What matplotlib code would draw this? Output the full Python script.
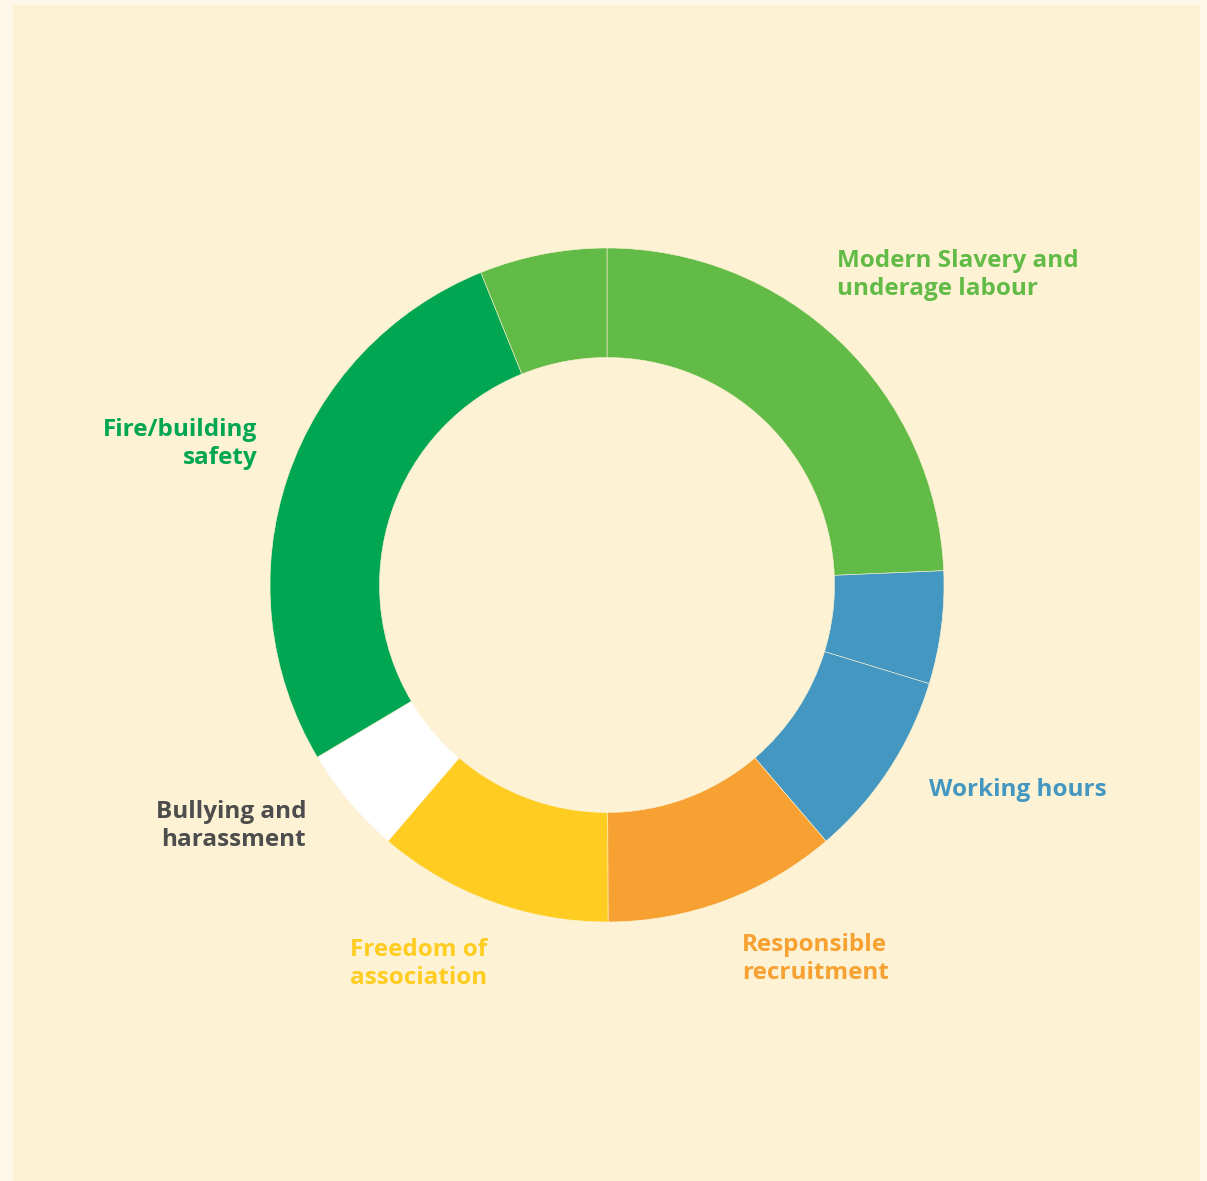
import matplotlib
matplotlib.use("Agg")
from matplotlib import pyplot as plt
from matplotlib.patches import Rectangle

# wedge shares, clockwise from 12 o'clock
values = [24.3, 5.4, 9.0, 11.2, 11.3, 5.2, 27.4, 6.1]
colors = ["#63BB47", "#4397C0", "#4397C0", "#F6A131", "#FFCD22", "#FFFFFF", "#00A651", "#63BB47"]

labels = ["Modern Slavery and\nunderage labour", "Working hours", "Responsible\nrecruitment",
          "Freedom of\nassociation", "Bullying and\nharassment", "Fire/building\nsafety"]
label_colors = ["#63BB47", "#4397C0", "#F6A131", "#FFCD22", "#4D4D4D", "#00A651"]
label_pos = [(837, 275, "left"), (929, 790, "left"), (742, 959, "left"),
             (487, 964, "right"), (306, 826, "right"), (257, 444, "right")]

W, H = 1207, 1181
fig = plt.figure(figsize=(W / 100, H / 100), dpi=100)
fig.patch.set_facecolor("#FFF7E8")
fig.patches.append(Rectangle((13 / W, 0), (1200 - 13) / W, (H - 5) / H,
                             transform=fig.transFigure, facecolor="#FDF2D4",
                             edgecolor="none", zorder=-5))

cx, cy, r = 607, 585, 337
ax = fig.add_axes([(cx - r) / W, (H - cy - r) / H, 2 * r / W, 2 * r / H])
ax.set_zorder(2)
ax.patch.set_visible(False)
ax.pie(values, colors=colors, startangle=90, counterclock=False,
       wedgeprops=dict(width=0.325, edgecolor="#FDF2D4", linewidth=0.4))
ax.set_xlim(-1, 1)
ax.set_ylim(-1, 1)
ax.set_aspect("equal")
ax.axis("off")

for lab, col, (x, y, ha) in zip(labels, label_colors, label_pos):
    fig.text(x / W, 1 - y / H, lab, color=col, ha=ha, va="center",
             fontsize=17.5, fontweight="bold", family="Open Sans", linespacing=1.22,
             multialignment=ha)

fig.savefig("out.png", dpi=100, facecolor=fig.get_facecolor())
